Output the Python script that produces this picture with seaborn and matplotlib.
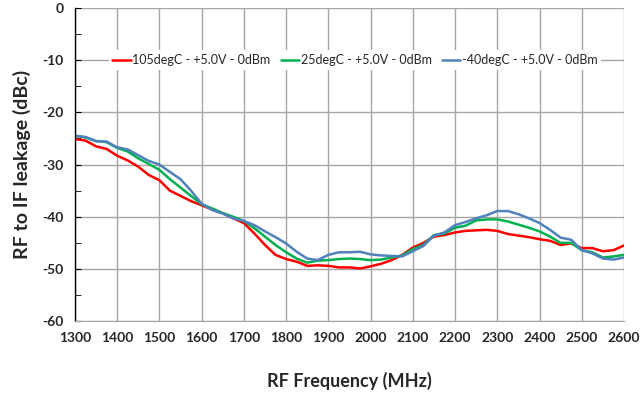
import matplotlib
matplotlib.use("Agg")
import matplotlib.pyplot as plt
import seaborn as sns
import numpy as np
import pandas as pd

# RF frequency sweep (MHz), 25 MHz steps
freq = list(range(1300, 2625, 25))

# leakage readings (dBc) per temperature
hot_105 = [-25.1, -25.4, -26.5, -27.0, -28.3, -29.2, -30.4, -32.0, -33.0, -35.0, -36.0, -37.0,
           -37.8, -38.6, -39.3, -40.3, -41.2, -43.2, -45.4, -47.3, -48.1, -48.6, -49.4, -49.3,
           -49.4, -49.7, -49.7, -49.9, -49.5, -49.0, -48.3, -47.3, -45.9, -45.0, -43.8, -43.5,
           -43.0, -42.7, -42.6, -42.5, -42.7, -43.3, -43.6, -43.9, -44.3, -44.6, -45.4, -45.1,
           -46.0, -46.0, -46.6, -46.4, -45.5]
room_25 = [-24.5, -24.8, -25.5, -25.7, -26.8, -27.5, -28.8, -29.9, -31.0, -32.8, -34.4, -36.0,
           -37.6, -38.4, -39.3, -40.0, -40.8, -42.2, -43.8, -45.4, -46.8, -48.0, -48.8, -48.4,
           -48.3, -48.1, -48.0, -48.1, -48.3, -48.2, -47.8, -47.4, -46.2, -45.4, -43.5, -43.2,
           -42.1, -41.7, -40.7, -40.5, -40.5, -40.9, -41.5, -42.1, -42.8, -43.8, -45.0, -45.0,
           -46.4, -46.8, -47.8, -47.6, -47.3]
cold_40 = [-24.5, -24.7, -25.5, -25.6, -26.7, -27.1, -28.2, -29.3, -30.0, -31.4, -32.8, -35.0,
           -37.5, -38.7, -39.4, -40.3, -40.8, -41.6, -42.8, -43.9, -45.1, -46.7, -48.0, -48.3,
           -47.3, -46.8, -46.8, -46.7, -47.2, -47.4, -47.5, -47.6, -46.6, -45.6, -43.6, -43.0,
           -41.6, -41.0, -40.3, -39.7, -38.9, -38.9, -39.5, -40.3, -41.2, -42.5, -44.0, -44.4,
           -46.4, -47.0, -48.0, -48.2, -47.8]

labels = ["105degC - +5.0V - 0dBm", "25degC - +5.0V - 0dBm", "-40degC - +5.0V - 0dBm"]
colors = ["#FF0000", "#00B050", "#4F81BD"]

df = pd.DataFrame({
    "freq": freq * 3,
    "leak": hot_105 + room_25 + cold_40,
    "series": [labels[0]] * len(freq) + [labels[1]] * len(freq) + [labels[2]] * len(freq),
})

sns.set_style("white")
plt.rcParams['font.family'] = ['Lato', 'DejaVu Sans']
plt.rcParams['axes.unicode_minus'] = False

fig = plt.figure(figsize=(6.4, 3.98), dpi=100)
ax = fig.add_axes([0.117, 0.193, 0.858, 0.787])

sns.lineplot(data=df, x="freq", y="leak", hue="series", palette=colors,
             linewidth=1.8, ax=ax, legend=True)

ax.set_xlim(1300, 2600)
ax.set_ylim(-60, 0)
ax.set_xticks(np.arange(1300, 2601, 100))
ax.set_yticks(np.arange(-60, 1, 10))
ax.set_yticks(np.arange(-55, 0, 10), minor=True)
ax.grid(True, which="major", color="#A6A6A6", linewidth=1.0)
ax.set_axisbelow(True)

for s in ["top", "right"]:
    ax.spines[s].set_visible(False)
ax.spines["left"].set_color("black")
ax.spines["left"].set_linewidth(1.0)
ax.spines["bottom"].set_color("#A6A6A6")

ax.tick_params(axis="y", which="both", direction="in", length=4, color="black", left=True)
ax.tick_params(axis="x", length=0, pad=8)
ax.tick_params(axis="y", which="major", pad=8)
for t in ax.get_xticklabels() + ax.get_yticklabels():
    t.set_fontweight("bold")
    t.set_fontsize(10)

ax.set_xlabel("RF Frequency (MHz)", fontsize=13, fontweight="bold", labelpad=20)
ax.set_ylabel("RF to IF leakage (dBc)", fontsize=14, fontweight="bold", labelpad=8)

leg = ax.legend(loc="center", bbox_to_anchor=(0.51, 0.834), ncol=3, frameon=True,
                fontsize=9, handlelength=1.5, handletextpad=0.1, columnspacing=0.8,
                borderpad=0.3, framealpha=1)
leg.get_frame().set_edgecolor("white")
leg.get_frame().set_linewidth(0)
for line in leg.get_lines():
    line.set_linewidth(1.8)

fig.savefig("out.png", dpi=100)
